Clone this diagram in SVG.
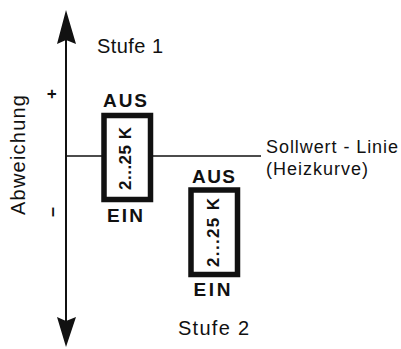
<svg xmlns="http://www.w3.org/2000/svg" width="401" height="349" viewBox="0 0 401 349">
<style>
text{font-family:"Liberation Sans",Arial,sans-serif;fill:#111}
.b{font-weight:bold}
.box{fill:#fff;stroke:#111;stroke-width:5.5}
.ln{stroke:#111;fill:none}
</style>
<rect width="401" height="349" fill="#fff"/>
<g id="connectors">
<line class="ln" x1="66" y1="156" x2="261" y2="156" stroke-width="1.5"/>
</g>
<g id="axis">
<line class="ln" x1="66" y1="38" x2="66" y2="322" stroke-width="2"/>
<path d="M66 10 L76 44 L66 40 L57 44 Z" fill="#111"/>
<path d="M66 347 L76 317 L66 321 L57 317 Z" fill="#111"/>
<text transform="translate(25 215) rotate(-90)" font-size="20" textLength="120">Abweichung</text>
<text transform="translate(57 94) rotate(-90)" font-size="17" class="b" text-anchor="middle">+</text>
<text transform="translate(57.5 212) rotate(-90)" font-size="18" class="b" text-anchor="middle">–</text>
</g>
<g id="stufe1">
<text x="97" y="53" font-size="20" textLength="66">Stufe 1</text>
</g>
<g id="stufe2">
<text x="178" y="335" font-size="20" textLength="71">Stufe 2</text>
</g>
<g id="sollwert">
<text x="266" y="153" font-size="18" textLength="132">Sollwert - Linie</text>
<text x="266" y="175" font-size="18" textLength="102">(Heizkurve)</text>
</g>
<g id="box1">
<rect class="box" x="104" y="115.5" width="46.5" height="84"/>
<text class="b" x="125" y="107" font-size="19" text-anchor="middle" textLength="44">AUS</text>
<text class="b" x="125" y="222" font-size="19" text-anchor="middle" textLength="36">EIN</text>
<text class="b" transform="translate(131 158.5) rotate(-90)" font-size="17" text-anchor="middle" textLength="63">2...25 K</text>
</g>
<g id="box2">
<rect class="box" x="191" y="190" width="46.5" height="84.5"/>
<text class="b" x="213.5" y="183" font-size="19" text-anchor="middle" textLength="43">AUS</text>
<text class="b" x="212" y="296" font-size="19" text-anchor="middle" textLength="37">EIN</text>
<text class="b" transform="translate(218.5 232.5) rotate(-90)" font-size="17" text-anchor="middle" textLength="69">2...25 K</text>
</g>
</svg>
